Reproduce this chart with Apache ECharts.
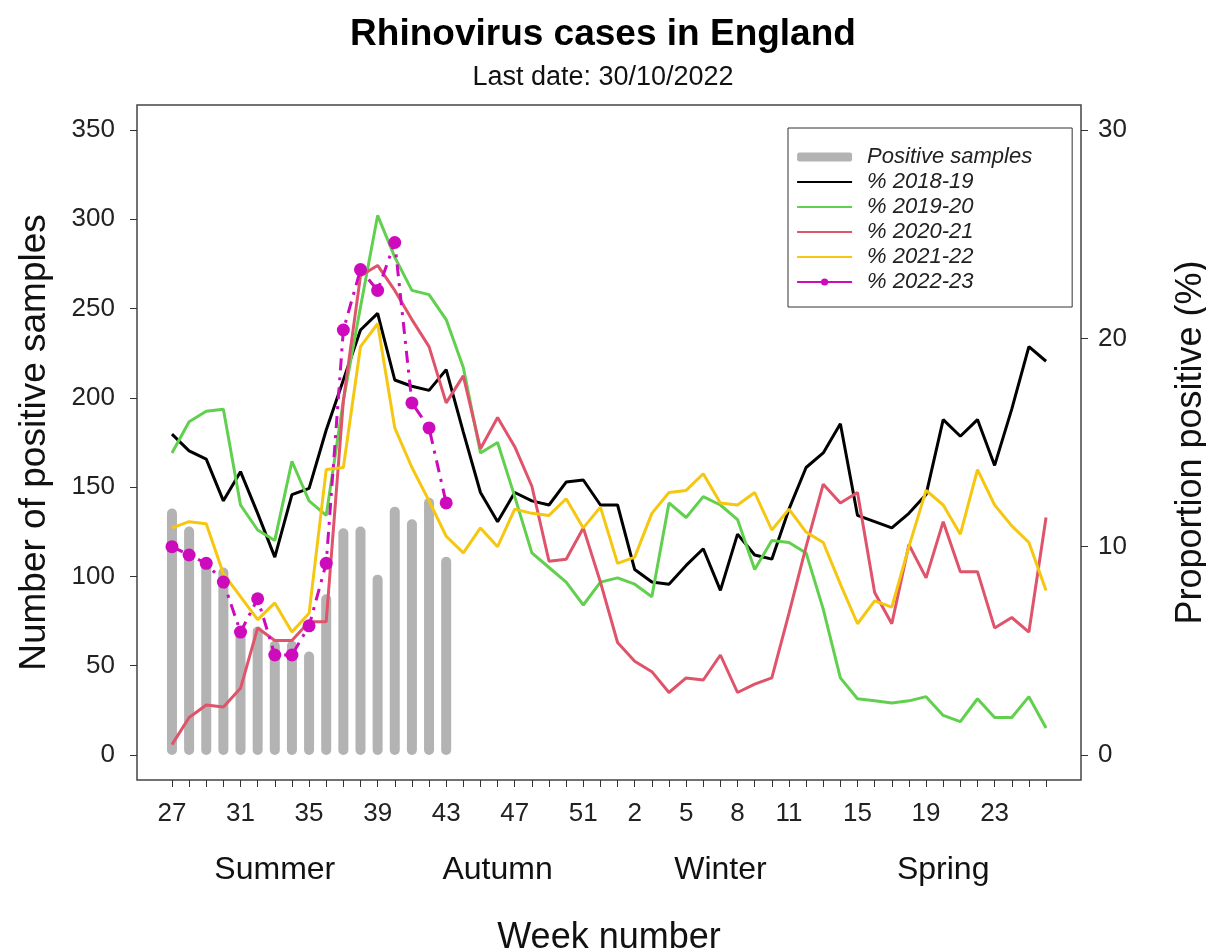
<!DOCTYPE html>
<html><head><meta charset="utf-8">
<script src="https://cdn.jsdelivr.net/npm/echarts@6/dist/echarts.min.js"></script>
<style>html,body{margin:0;padding:0;background:#fff}#c{width:1206px;height:949px}</style>
</head><body><div id="c"></div>
<script>
// ---- data ----
const weeks = [27,28,29,30,31,32,33,34,35,36,37,38,39,40,41,42,43,44,45,46,47,48,49,50,51,52,
               1,2,3,4,5,6,7,8,9,10,11,12,13,14,15,16,17,18,19,20,21,22,23,24,25,26];
const tickWeeks = [27,31,35,39,43,47,51,2,5,8,11,15,19,23];
const seasons = ['Summer','Autumn','Winter','Spring'];
const leftTicks = [0,50,100,150,200,250,300,350];
const rightTicks = [0,10,20,30];

const positiveSamples = [138,128,107,105,70,72,64,64,58,90,127,128,101,139,132,144,111];

const pct2018_19 = [15.4,14.6,14.2,12.2,13.6,11.6,9.5,12.5,12.8,15.6,18.0,20.4,21.2,18.0,17.7,17.5,18.5,
  15.5,12.6,11.2,12.6,12.2,12.0,13.1,13.2,12.0,12.0,8.9,8.3,8.2,9.1,9.9,7.9,10.6,9.6,9.4,11.8,13.8,14.5,15.9,
  11.5,11.2,10.9,11.6,12.5,16.1,15.3,16.1,13.9,16.6,19.6,18.9];
const pct2019_20 = [14.5,16.0,16.5,16.6,12.0,10.8,10.3,14.1,12.2,11.5,17.0,21.5,25.9,23.9,22.3,22.1,20.9,
  18.6,14.5,15.0,12.4,9.7,9.0,8.3,7.2,8.3,8.5,8.2,7.6,12.1,11.4,12.4,12.0,11.3,8.9,10.3,10.2,9.7,7.0,3.7,
  2.7,2.6,2.5,2.6,2.8,1.9,1.6,2.7,1.8,1.8,2.8,1.3];
const pct2020_21 = [0.5,1.8,2.4,2.3,3.2,6.1,5.5,5.5,6.4,6.4,17.0,23.0,23.5,22.3,20.9,19.6,16.9,
  18.2,14.7,16.2,14.8,12.9,9.3,9.4,10.9,8.3,5.4,4.5,4.0,3.0,3.7,3.6,4.8,3.0,3.4,3.7,6.8,10.0,13.0,12.1,
  12.6,7.8,6.3,10.1,8.5,11.2,8.8,8.8,6.1,6.6,5.9,11.4];
const pct2021_22 = [10.9,11.2,11.1,8.7,7.6,6.5,7.3,5.9,6.8,13.7,13.8,19.6,20.7,15.7,13.8,12.2,10.5,
  9.7,10.9,10.0,11.8,11.6,11.5,12.3,10.9,11.9,9.2,9.5,11.6,12.6,12.7,13.5,12.1,12.0,12.6,10.8,11.8,10.7,10.2,8.2,
  6.3,7.4,7.1,10.0,12.7,12.0,10.6,13.7,12.0,11.0,10.2,7.9];
const pct2022_23 = [10.0,9.6,9.2,8.3,5.9,7.5,4.8,4.8,6.2,9.2,20.4,23.3,22.3,24.6,16.9,15.7,12.1];

// ---- derived ----
const n = weeks.length;
const xPad = 0.04 * (n - 1);
const leftMax = 350, rightMax = 30;
const tickIdx = tickWeeks.map(w => weeks.indexOf(w));
const allIdx = weeks.map((w, i) => i);
const seasonLen = n / seasons.length;
const seasonCenters = seasons.map((s, k) => k * seasonLen + (seasonLen - 1) / 2);
const toPairs = arr => arr.map((v, i) => [i, v]);

const FONT = 'Liberation Sans, Arial, Helvetica, sans-serif';
const chart = echarts.init(document.getElementById('c'), null, {renderer: 'canvas'});

function lineSeries(name, data, color) {
  return {
    name, type: 'line', xAxisIndex: 0, yAxisIndex: 1, data: toPairs(data),
    symbol: 'none', lineStyle: {color, width: 3}, itemStyle: {color}, z: 3
  };
}
const noDot = name => ({name, itemStyle: {opacity: 0}, lineStyle: {width: 2.2}});

chart.setOption({
  animation: false,
  backgroundColor: '#fff',
  textStyle: {fontFamily: FONT},
  title: {
    text: 'Rhinovirus cases in England',
    subtext: 'Last date: 30/10/2022',
    left: 'center', top: 11, itemGap: 11,
    textStyle: {fontSize: 37, fontWeight: 'bold', color: '#000', fontFamily: FONT},
    subtextStyle: {fontSize: 27, color: '#111', fontFamily: FONT}
  },
  grid: {left: 137, right: 125, top: 105, bottom: 169, outerBoundsMode: 'none', containLabel: false,
         show: true, borderColor: '#444', borderWidth: 1.5, backgroundColor: 'transparent'},
  legend: {
    orient: 'vertical', left: 788, top: 128,
    backgroundColor: '#fff', borderColor: '#333', borderWidth: 1,
    padding: [18, 40, 14, 8], itemWidth: 55, itemHeight: 9, itemGap: 3,
    textStyle: {fontSize: 22, fontStyle: 'italic', color: '#222', fontFamily: FONT, padding: [0, 0, 0, 10]},
    data: [{name: 'Positive samples', icon: 'roundRect'}, noDot('% 2018-19'), noDot('% 2019-20'),
           noDot('% 2020-21'), noDot('% 2021-22'), {name: '% 2022-23', lineStyle: {type: 'solid', width: 2.2}}]
  },
  xAxis: [{
    type: 'value', min: -xPad, max: n - 1 + xPad, position: 'bottom',
    axisLine: {show: false, onZero: false}, splitLine: {show: false},
    axisTick: {show: true, customValues: allIdx, length: 7, lineStyle: {color: '#333', width: 1}},
    axisLabel: {customValues: tickIdx, formatter: v => String(weeks[Math.round(v)]), fontSize: 26, color: '#222', margin: 21}
  }, {
    type: 'value', min: -xPad, max: n - 1 + xPad, position: 'bottom',
    axisLine: {show: false, onZero: false}, splitLine: {show: false}, axisTick: {show: false},
    axisLabel: {customValues: seasonCenters, formatter: v => seasons[Math.round((v - (seasonLen - 1) / 2) / seasonLen)], fontSize: 32, color: '#111', margin: 74},
    name: 'Week number', nameLocation: 'middle', nameGap: 140,
    nameTextStyle: {fontSize: 36, color: '#111'}
  }],
  yAxis: [{
    type: 'value', min: -0.04 * leftMax, max: leftMax * 1.04, position: 'left',
    axisLine: {show: false, onZero: false}, splitLine: {show: false},
    axisTick: {show: true, customValues: leftTicks, length: 7, lineStyle: {color: '#333'}},
    axisLabel: {customValues: leftTicks, fontSize: 26, color: '#222', margin: 22},
    name: 'Number of positive samples', nameLocation: 'middle', nameRotate: 90, nameGap: 84,
    nameTextStyle: {fontSize: 37, color: '#111'}
  }, {
    type: 'value', min: -0.04 * rightMax, max: rightMax * 1.04, position: 'right',
    axisLine: {show: false, onZero: false}, splitLine: {show: false},
    axisTick: {show: true, customValues: rightTicks, length: 7, lineStyle: {color: '#333'}},
    axisLabel: {customValues: rightTicks, fontSize: 26, color: '#222', margin: 17},
    name: 'Proportion positive (%)', nameLocation: 'middle', nameRotate: 90, nameGap: 92,
    nameTextStyle: {fontSize: 36, color: '#111'}
  }],
  series: [
    {name: 'Positive samples', type: 'bar', xAxisIndex: 0, yAxisIndex: 0, data: toPairs(positiveSamples),
     barWidth: 10, itemStyle: {color: '#b3b3b3', borderRadius: 5}, z: 1},
    lineSeries('% 2018-19', pct2018_19, '#000000'),
    lineSeries('% 2019-20', pct2019_20, '#61D04F'),
    lineSeries('% 2020-21', pct2020_21, '#DF536B'),
    lineSeries('% 2021-22', pct2021_22, '#F5C710'),
    {name: '% 2022-23', type: 'line', xAxisIndex: 0, yAxisIndex: 1, data: toPairs(pct2022_23),
     symbol: 'circle', symbolSize: 13, showSymbol: true,
     lineStyle: {color: '#CD0BBC', width: 3, type: [12, 7, 3, 7]}, itemStyle: {color: '#CD0BBC'}, z: 4}
  ]
});
</script></body></html>
